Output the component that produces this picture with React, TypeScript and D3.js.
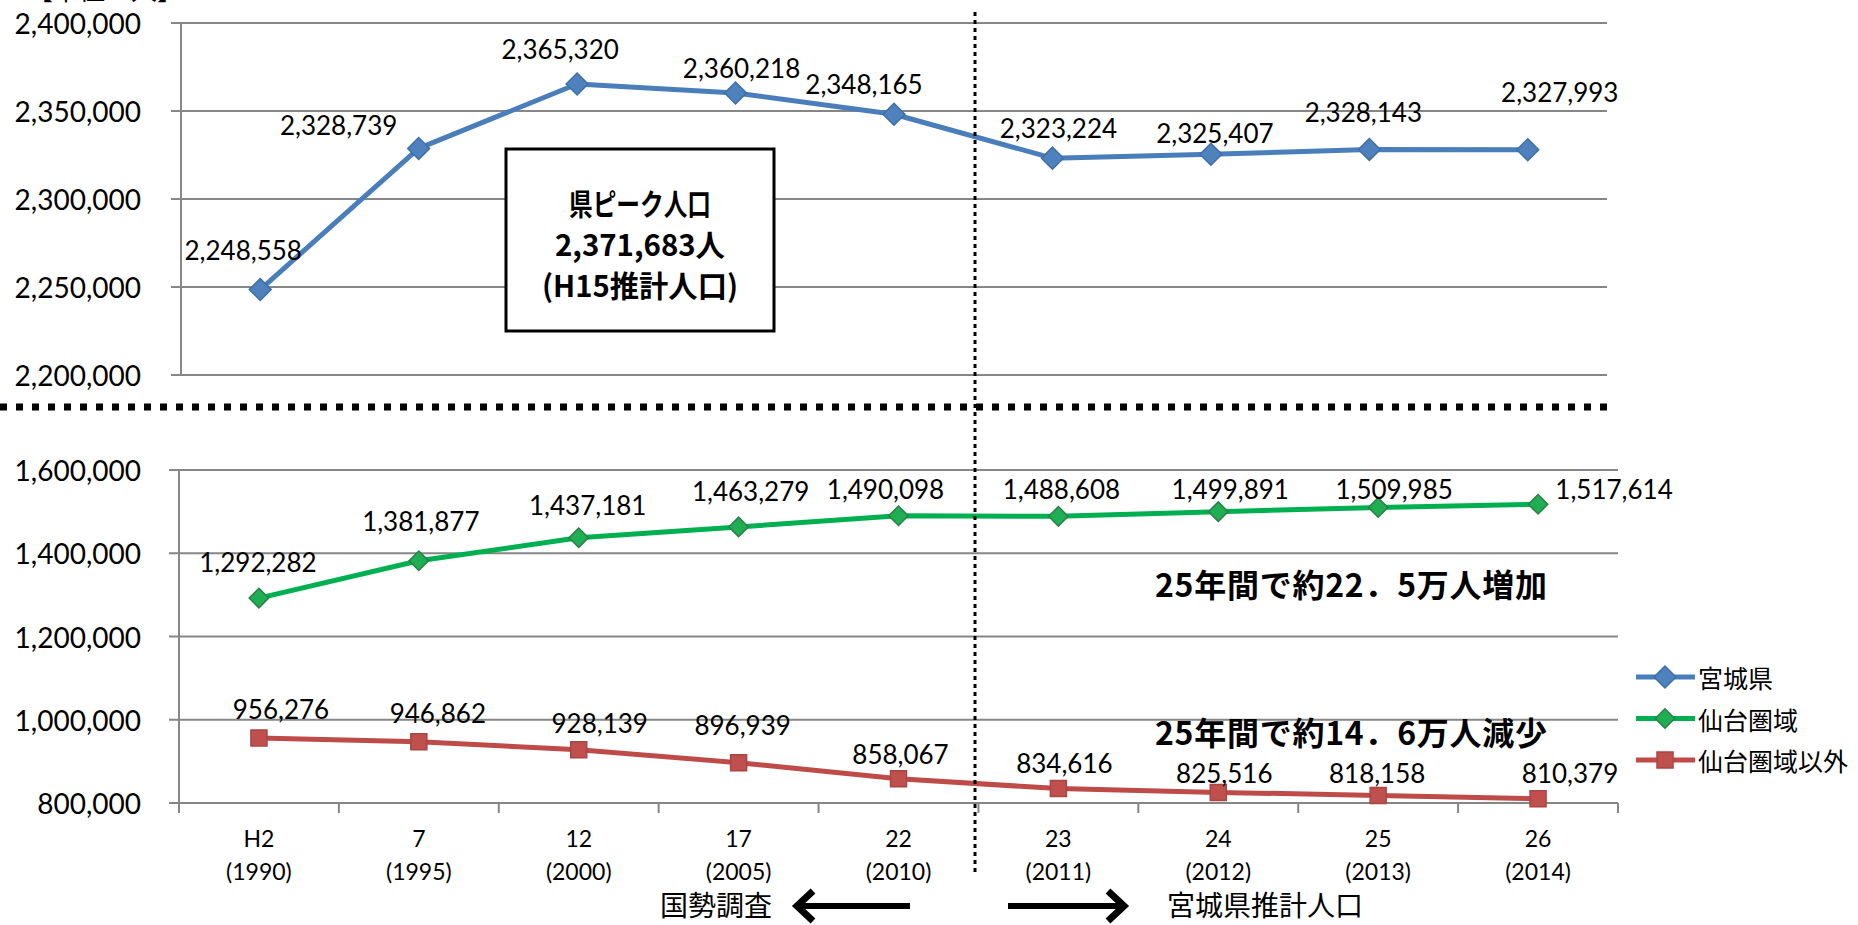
import { useEffect, useRef } from 'react';
import * as d3 from 'd3';

const categories = ['H2', '7', '12', '17', '22', '23', '24', '25', '26'];
const years = ['(1990)', '(1995)', '(2000)', '(2005)', '(2010)', '(2011)', '(2012)', '(2013)', '(2014)'];

const miyagi = [2248558, 2328739, 2365320, 2360218, 2348165, 2323224, 2325407, 2328143, 2327993];
const sendai = [1292282, 1381877, 1437181, 1463279, 1490098, 1488608, 1499891, 1509985, 1517614];
const others = [956276, 946862, 928139, 896939, 858067, 834616, 825516, 818158, 810379];

const topTicks = [2200000, 2250000, 2300000, 2350000, 2400000];
const bottomTicks = [800000, 1000000, 1200000, 1400000, 1600000];
const seriesNames = ['宮城県', '仙台圏域', '仙台圏域以外'];

// data labels were dragged by hand in the sheet, so keep the nudges (px)
const miyagiShift = [[-17, -40], [-80, -23], [-17, -35], [6, -25], [-30, -30], [6, -30], [4, -21], [-6, -37], [32, -58]];
const sendaiShift = [[-1, -36], [2, -40], [9, -33], [12, -36], [-13, -27], [3, -27], [12, -23], [16, -18], [76, -15]];
const othersShift = [[22, -29], [19, -29], [21, -27], [4, -38], [2, -25], [6, -26], [6, -19], [-1, -22], [32, -26]];

const W = 1858;
const H = 925;
const numFont = 'Lato, "Liberation Sans", sans-serif';
const jpFont = '"Noto Sans CJK JP", "Noto Sans CJK SC", sans-serif';
const gridColor = '#868686';

export default function App() {
  const svgRef = useRef<SVGSVGElement>(null);

  useEffect(() => {
    const svg = d3.select(svgRef.current);
    svg.selectAll('*').remove();
    const fmt = d3.format(',');

    svg.append('rect').attr('width', W).attr('height', H).attr('fill', '#fff');

    const xTop = d3.scaleBand<string>().domain(categories).range([181, 1607]);
    const yTop = d3.scaleLinear().domain([2200000, 2400000]).range([375, 23]);
    const xBot = d3.scaleBand<string>().domain(categories).range([179, 1618]);
    const yBot = d3.scaleLinear().domain([800000, 1600000]).range([803, 470]);

    // unit label, mostly cut off by the top edge
    svg.append('text')
      .attr('x', 27).attr('y', 0)
      .style('font-family', jpFont).style('font-size', '26px')
      .text('【単位：人】');

    const drawGrid = (x: d3.ScaleBand<string>, y: d3.ScaleLinear<number, number>, ticks: number[], xTicks: boolean) => {
      const [x0, x1] = x.range();
      const g = svg.append('g');
      g.selectAll('line.grid')
        .data(ticks)
        .enter().append('line')
        .attr('x1', x0 - 10).attr('x2', x1)
        .attr('y1', d => y(d)).attr('y2', d => y(d))
        .attr('stroke', gridColor).attr('stroke-width', 2);
      g.append('line')
        .attr('x1', x0).attr('x2', x0)
        .attr('y1', y.range()[1]).attr('y2', y.range()[0])
        .attr('stroke', gridColor).attr('stroke-width', 2);
      g.selectAll('text.tick')
        .data(ticks)
        .enter().append('text')
        .attr('x', 141).attr('y', d => y(d))
        .attr('text-anchor', 'end').attr('dominant-baseline', 'central')
        .style('font-family', numFont).style('font-size', '28px')
        .text(d => fmt(d));
      if (xTicks) {
        const bw = x.bandwidth();
        g.selectAll('line.xtick')
          .data(d3.range(categories.length + 1))
          .enter().append('line')
          .attr('x1', i => x0 + i * bw).attr('x2', i => x0 + i * bw)
          .attr('y1', y.range()[0]).attr('y2', y.range()[0] + 10)
          .attr('stroke', gridColor).attr('stroke-width', 2);
      }
    };

    drawGrid(xTop, yTop, topTicks, false);
    drawGrid(xBot, yBot, bottomTicks, true);

    // category labels under the lower chart
    const xl = svg.append('g');
    categories.forEach((c, i) => {
      const cx = xBot(c)! + xBot.bandwidth() / 2;
      xl.append('text').attr('x', cx).attr('y', 838)
        .attr('text-anchor', 'middle').attr('dominant-baseline', 'central')
        .style('font-family', numFont).style('font-size', '23px').text(c);
      xl.append('text').attr('x', cx).attr('y', 871)
        .attr('text-anchor', 'middle').attr('dominant-baseline', 'central')
        .style('font-family', numFont).style('font-size', '23px').text(years[i]);
    });

    const markerPath = (kind: string) => {
      if (kind === 'square') return d3.symbol(d3.symbolSquare, 256)()!;
      if (kind === 'bigDiamond') return d3.symbol(d3.symbolSquare, 240)()!;
      return d3.symbol(d3.symbolSquare, 190)()!;
    };
    const markerRotate = (kind: string) => (kind === 'square' ? '' : ' rotate(45)');

    const drawSeries = (
      values: number[],
      x: d3.ScaleBand<string>,
      y: d3.ScaleLinear<number, number>,
      line: string,
      fill: string,
      stroke: string,
      kind: string,
      shifts: number[][]
    ) => {
      const g = svg.append('g');
      const px = (i: number) => x(categories[i])! + x.bandwidth() / 2;
      const path = d3.line<number>().x((_, i) => px(i)).y(d => y(d));
      g.append('path')
        .attr('d', path(values))
        .attr('fill', 'none').attr('stroke', line).attr('stroke-width', 5)
        .attr('stroke-linejoin', 'round');
      g.selectAll('path.mk')
        .data(values)
        .enter().append('path')
        .attr('d', markerPath(kind))
        .attr('transform', (d, i) => `translate(${px(i)},${y(d)})${markerRotate(kind)}`)
        .attr('fill', fill).attr('stroke', stroke).attr('stroke-width', 1.5);
      g.selectAll('text.lbl')
        .data(values)
        .enter().append('text')
        .attr('x', (_, i) => px(i) + shifts[i][0])
        .attr('y', (d, i) => y(d) + shifts[i][1])
        .attr('text-anchor', 'middle').attr('dominant-baseline', 'central')
        .style('font-family', numFont).style('font-size', '26px')
        .text(d => fmt(d));
    };

    drawSeries(miyagi, xTop, yTop, '#4A7EBB', '#4F81BD', '#3F6FA8', 'bigDiamond', miyagiShift);
    drawSeries(sendai, xBot, yBot, '#00B050', '#20AE55', '#2A7F45', 'diamond', sendaiShift);
    drawSeries(others, xBot, yBot, '#BE4B48', '#C0504D', '#A94542', 'square', othersShift);

    // peak population box
    const box = svg.append('g');
    box.append('rect')
      .attr('x', 506).attr('y', 149).attr('width', 268).attr('height', 182)
      .attr('fill', '#fff').attr('stroke', '#000').attr('stroke-width', 3);
    [['県ピーク人口', 202, 142], ['2,371,683人', 243, 170], ['(H15推計人口)', 284, 196]].forEach(([t, ty, tl]) => {
      box.append('text')
        .attr('x', 640).attr('y', ty as number)
        .attr('text-anchor', 'middle').attr('dominant-baseline', 'central')
        .attr('textLength', tl as number)
        .attr('lengthAdjust', 'spacingAndGlyphs')
        .style('font-family', jpFont).style('font-weight', 700).style('font-size', '30px')
        .text(t as string);
    });

    // 25-year change notes
    [['25年間で約22．5万人増加', 583], ['25年間で約14．6万人減少', 731]].forEach(([t, ty]) => {
      svg.append('text')
        .attr('x', 1155).attr('y', ty as number)
        .attr('dominant-baseline', 'central')
        .attr('textLength', 392)
        .style('font-family', jpFont).style('font-weight', 700).style('font-size', '32px')
        .text(t as string);
    });

    // separators
    svg.append('line')
      .attr('x1', 0).attr('x2', 1608).attr('y1', 407).attr('y2', 407)
      .attr('stroke', '#000').attr('stroke-width', 7).attr('stroke-dasharray', '7 9');
    svg.append('line')
      .attr('x1', 975).attr('x2', 975).attr('y1', 12).attr('y2', 872)
      .attr('stroke', '#000').attr('stroke-width', 3).attr('stroke-dasharray', '4 4');

    // legend
    const legendRows = [
      { name: seriesNames[0], line: '#4A7EBB', fill: '#4F81BD', stroke: '#3F6FA8', kind: 'bigDiamond' },
      { name: seriesNames[1], line: '#00B050', fill: '#20AE55', stroke: '#2A7F45', kind: 'diamond' },
      { name: seriesNames[2], line: '#BE4B48', fill: '#C0504D', stroke: '#A94542', kind: 'square' },
    ];
    const lg = svg.append('g');
    legendRows.forEach((r, i) => {
      const ly = 677 + i * 41.5;
      lg.append('line').attr('x1', 1636).attr('x2', 1695).attr('y1', ly).attr('y2', ly)
        .attr('stroke', r.line).attr('stroke-width', 5);
      lg.append('path').attr('d', markerPath(r.kind))
        .attr('transform', `translate(1665,${ly})${markerRotate(r.kind)}`)
        .attr('fill', r.fill).attr('stroke', r.stroke).attr('stroke-width', 1.5);
      lg.append('text').attr('x', 1698).attr('y', ly)
        .attr('dominant-baseline', 'central')
        .style('font-family', jpFont).style('font-size', '25px').text(r.name);
    });

    // source arrows
    const ar = svg.append('g').attr('stroke', '#000').attr('fill', 'none');
    ar.append('line').attr('x1', 910).attr('x2', 797).attr('y1', 906).attr('y2', 906).attr('stroke-width', 6);
    ar.append('polyline').attr('points', '813,891 797,906 813,921').attr('stroke-width', 7);
    ar.append('line').attr('x1', 1008).attr('x2', 1124).attr('y1', 906).attr('y2', 906).attr('stroke-width', 6);
    ar.append('polyline').attr('points', '1108,891 1124,906 1108,921').attr('stroke-width', 7);
    svg.append('text').attr('x', 660).attr('y', 904).attr('dominant-baseline', 'central')
      .style('font-family', jpFont).style('font-size', '28px').text('国勢調査');
    svg.append('text').attr('x', 1167).attr('y', 904).attr('dominant-baseline', 'central')
      .style('font-family', jpFont).style('font-size', '28px').text('宮城県推計人口');
  }, []);

  return (
    <div style={{ position: 'absolute', left: 0, top: 0 }}>
      <svg ref={svgRef} width={W} height={H}></svg>
    </div>
  );
}
